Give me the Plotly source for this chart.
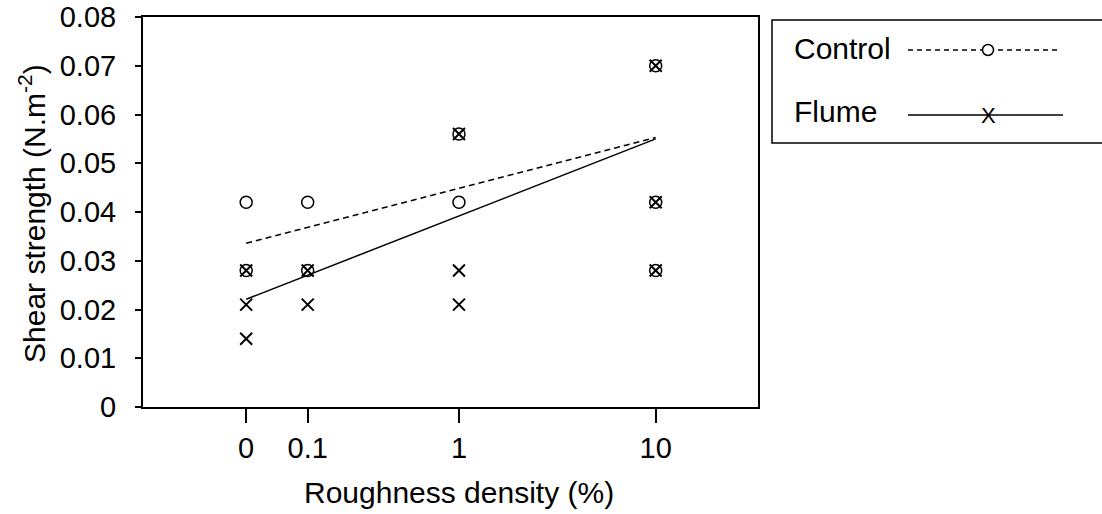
import numpy as np
import plotly.graph_objects as go

# ---- data ----
x_tick_vals = [0, 0.1, 1, 10]
x_tick_text = ["0", "0.1", "1", "10"]
x_offset = 0.1  # axis plots log10(density + 0.1)

y_tick_vals = [0, 0.01, 0.02, 0.03, 0.04, 0.05, 0.06, 0.07, 0.08]
y_tick_text = ["0", "0.01", "0.02", "0.03", "0.04", "0.05", "0.06", "0.07", "0.08"]

control_x = [0, 0, 0.1, 0.1, 1, 1, 10, 10, 10]
control_y = [0.042, 0.028, 0.042, 0.028, 0.056, 0.042, 0.070, 0.042, 0.028]

flume_x = [0, 0, 0, 0.1, 0.1, 1, 1, 1, 10, 10, 10]
flume_y = [0.028, 0.021, 0.014, 0.028, 0.021, 0.056, 0.028, 0.021, 0.070, 0.042, 0.028]

trend_x = [0, 10]
control_trend = [0.0336, 0.0553]
flume_trend = [0.0221, 0.0550]

# ---- geometry ----
W, H = 1102, 514
L, R, T, B = 143, 344, 17, 107
PW = W - L - R
PH = H - T - B
FONT = "Liberation Sans, Arial, sans-serif"


def px(p):
    return (p - L) / PW


def py(p):
    return (H - B - p) / PH


def shift(v):
    return [a + x_offset for a in v]


fig = go.Figure()

fig.add_trace(go.Scatter(x=shift(trend_x), y=control_trend, mode="lines",
                         line=dict(color="black", width=1.5, dash="6px,4px"),
                         showlegend=False, hoverinfo="skip"))
fig.add_trace(go.Scatter(x=shift(trend_x), y=flume_trend, mode="lines",
                         line=dict(color="black", width=1.5),
                         showlegend=False, hoverinfo="skip"))
fig.add_trace(go.Scatter(x=shift(control_x), y=control_y, mode="markers", name="Control",
                         marker=dict(symbol="circle-open", size=12, color="black",
                                     line=dict(color="black", width=1.5)),
                         showlegend=False))
fig.add_trace(go.Scatter(x=shift(flume_x), y=flume_y, mode="markers", name="Flume",
                         marker=dict(symbol="x-thin-open", size=12, color="black",
                                     line=dict(color="black", width=2)),
                         showlegend=False))

fig.update_layout(
    template="none",
    width=W, height=H, autosize=False,
    margin=dict(l=L, r=R, t=T, b=B, pad=0),
    paper_bgcolor="white", plot_bgcolor="white",
    font=dict(family=FONT, size=29, color="black"),
    showlegend=False,
)

fig.update_xaxes(
    type="log", range=[-1.505, 1.505], automargin=False,
    tickvals=shift(x_tick_vals), ticktext=x_tick_text,
    ticks="outside", ticklen=14, tickwidth=1.5, tickcolor="black",
    showline=True, linecolor="black", linewidth=2, mirror=True,
    showgrid=False, zeroline=False, ticklabelstandoff=0,
)
fig.update_yaxes(
    range=[0, 0.08], automargin=False,
    tickvals=y_tick_vals, ticktext=y_tick_text,
    ticks="outside", ticklen=6, tickwidth=1.5, tickcolor="black",
    showline=True, linecolor="black", linewidth=2, mirror=True,
    showgrid=False, zeroline=False, ticklabelstandoff=13,
)

# axis titles
fig.add_annotation(text="Roughness density (%)", xref="paper", yref="paper",
                   x=px(459), y=py(492), showarrow=False,
                   font=dict(size=30), xanchor="center", yanchor="middle")
fig.add_annotation(text="Shear strength (N.m<sup>-2</sup>)", xref="paper", yref="paper",
                   x=px(32), y=py(214), showarrow=False, textangle=-90,
                   font=dict(size=30), xanchor="center", yanchor="middle")

# manual legend
fig.add_shape(type="rect", xref="paper", yref="paper",
              x0=px(772), x1=px(1115), y0=py(20), y1=py(143),
              line=dict(color="black", width=1.5), fillcolor="white", layer="above")
fig.add_shape(type="line", xref="paper", yref="paper",
              x0=px(908), x1=px(1060), y0=py(50), y1=py(50),
              line=dict(color="black", width=1.5, dash="5px,4px"))
fig.add_shape(type="circle", xref="paper", yref="paper", xsizemode="pixel", ysizemode="pixel",
              xanchor=px(988), yanchor=py(50), x0=-5.5, x1=5.5, y0=-5.5, y1=5.5,
              line=dict(color="black", width=1.5), fillcolor="white")
fig.add_shape(type="line", xref="paper", yref="paper",
              x0=px(908), x1=px(1063), y0=py(115), y1=py(115),
              line=dict(color="black", width=1.5))
fig.add_annotation(text="X", xref="paper", yref="paper", x=px(988), y=py(115),
                   showarrow=False, font=dict(size=22), xanchor="center", yanchor="middle")
fig.add_annotation(text="Control", xref="paper", yref="paper", x=px(792), y=py(48),
                   showarrow=False, font=dict(size=30), xanchor="left", yanchor="middle")
fig.add_annotation(text="Flume", xref="paper", yref="paper", x=px(792), y=py(111),
                   showarrow=False, font=dict(size=30), xanchor="left", yanchor="middle")

fig.write_html("out.html", config={"displayModeBar": False},
               post_script="document.body.style.margin='0px';")
